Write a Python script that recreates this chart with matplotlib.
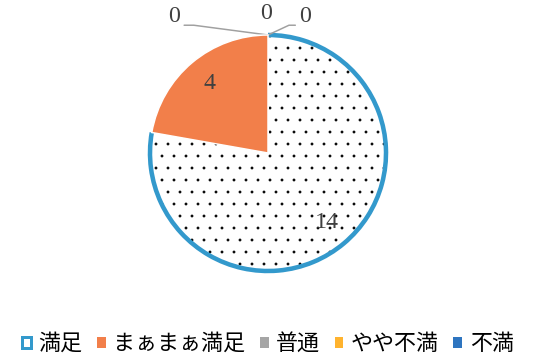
import numpy as np
import matplotlib
matplotlib.use('Agg')
import matplotlib.pyplot as plt
from matplotlib.patches import Arc, Patch

categories = ['満足', 'まぁまぁ満足', '普通', 'やや不満', '不満']
values = [14, 4, 0, 0, 0]
colors = ['white', '#F27F4A', '#A5A5A5', '#FFB32E', '#2E75C0']
ring_color = '#3399CC'
text_color = '#404040'

plt.rcParams['font.family'] = ['Liberation Serif', 'Noto Sans CJK JP', 'DejaVu Sans']
plt.rcParams['hatch.linewidth'] = 0.3

dpi = 72
fig = plt.figure(figsize=(536 / dpi, 357 / dpi), dpi=dpi)
# pie centre at (268,153) px, radius 118 px
r_px = 118
ax = fig.add_axes([(268 - r_px) / 536, (357 - 153 - r_px) / 357, 2 * r_px / 536, 2 * r_px / 357])

total = sum(values)
def fmt(p):
    v = p * total / 100
    return '%d' % round(v) if v > 0.5 else ''

wedges, texts, autotexts = ax.pie(values, colors=colors, startangle=90, counterclock=False,
                                  autopct=fmt, pctdistance=0.77,
                                  wedgeprops=dict(edgecolor='white', linewidth=1.5),
                                  textprops=dict(color=text_color, fontsize=24))
for t in autotexts:
    t.set_zorder(6)

# dotted fill for the first slice, blue ring on its arc
w0 = wedges[0]
w0.set_hatch('.')
w0.set_edgecolor('black')
w0.set_linewidth(0)
ring = Arc((0, 0), 2, 2, theta1=w0.theta1, theta2=w0.theta2,
           color=ring_color, lw=4.5, zorder=3)
ax.add_patch(ring)
ring.set_clip_on(False)
wedges[1].set_zorder(4)

# zero labels with leader lines (all zero slices sit at the top)
top = (0, 1.0)
ax.annotate('0', xy=top, xytext=(-0.795, 1.154), ha='center', va='center',
            fontsize=24, color=text_color, annotation_clip=False,
            arrowprops=dict(arrowstyle='-', color='#A0A0A0', lw=1.5, relpos=(1, 0.1),
                            shrinkA=2, shrinkB=0,
                            connectionstyle='angle,angleA=0,angleB=-7.5,rad=0'))
ax.text(-0.017, 1.18, '0', ha='center', va='center', fontsize=24, color=text_color)
ax.annotate('0', xy=top, xytext=(0.316, 1.154), ha='center', va='center',
            fontsize=24, color=text_color, annotation_clip=False,
            arrowprops=dict(arrowstyle='-', color='#A0A0A0', lw=1.5, relpos=(0, 0.1),
                            shrinkA=2, shrinkB=0,
                            connectionstyle='angle,angleA=0,angleB=25,rad=0'))

ax.set_xlim(-1, 1)
ax.set_ylim(-1, 1)
ax.axis('off')

handles = [Patch(facecolor='white', edgecolor=ring_color, lw=3)]
handles += [Patch(facecolor=c, edgecolor='none') for c in colors[1:]]
fig.legend(handles, categories, loc='lower center', bbox_to_anchor=(0.5, -0.05), ncol=5,
           frameon=False, handlelength=0.4, handleheight=0.4,
           handletextpad=0.35, columnspacing=0.65,
           prop={'family': ['Noto Sans CJK JP', 'DejaVu Sans'], 'size': 22})

fig.savefig('out.png', dpi=dpi)
